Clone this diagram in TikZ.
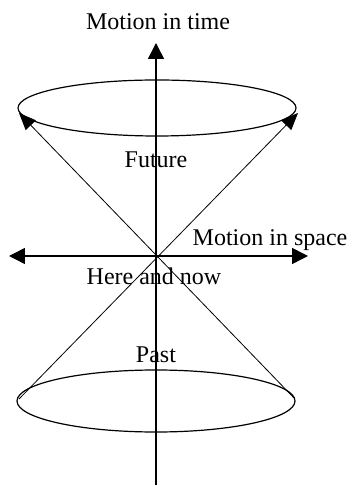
\documentclass[tikz,border=0pt]{standalone}
\usepackage{fontspec}
\setmainfont{Liberation Serif}
\usepackage{tikz}
\usetikzlibrary{arrows.meta,positioning}

\begin{document}
\begin{tikzpicture}[x=0.5pt, y=0.5pt,
    axis/.style={-{Triangle[length=8pt,width=8pt]}, line width=0.75pt},
    ray/.style={-{Triangle[length=8.5pt,width=7pt]}, line width=0.4pt},
    cone/.style={line width=0.6pt},
    lbl/.style={inner sep=0pt, font=\fontsize{12}{14}\selectfont}]

    \useasboundingbox (-156,-229) rectangle (195,256);

    % Points
    \coordinate (here) at (0,0);
    \coordinate (bottom) at (0,-229);
    \coordinate (timeTip) at (0,213);
    \coordinate (spaceL) at (-147,0);
    \coordinate (spaceR) at (152,0);
    \coordinate (futL) at (-137,143);
    \coordinate (futR) at (142,143);
    \coordinate (pastL) at (-137,-143);
    \coordinate (pastR) at (138,-142);

    % Cones
    \draw[cone] (1,148) ellipse [x radius=139, y radius=28];
    \draw[cone] (0,-145) ellipse [x radius=139, y radius=31];
    \draw[ray] (pastR) -- (futL);
    \draw[ray] (pastL) -- (futR);

    % Axes
    \draw[axis] (bottom) -- (timeTip);
    \draw[axis] (here) -- (spaceL);
    \draw[axis] (here) -- (spaceR);

    % Labels
    \node[lbl] (time) at (2,234) {Motion in time};
    \node[lbl] (future) at (0,96) {Future};
    \node[lbl] (space) at (114,16) {Motion in space};
    \node[lbl] (now) at (-2,-20) {Here and now};
    \node[lbl] (past) at (0,-99) {Past};
\end{tikzpicture}
\end{document}
